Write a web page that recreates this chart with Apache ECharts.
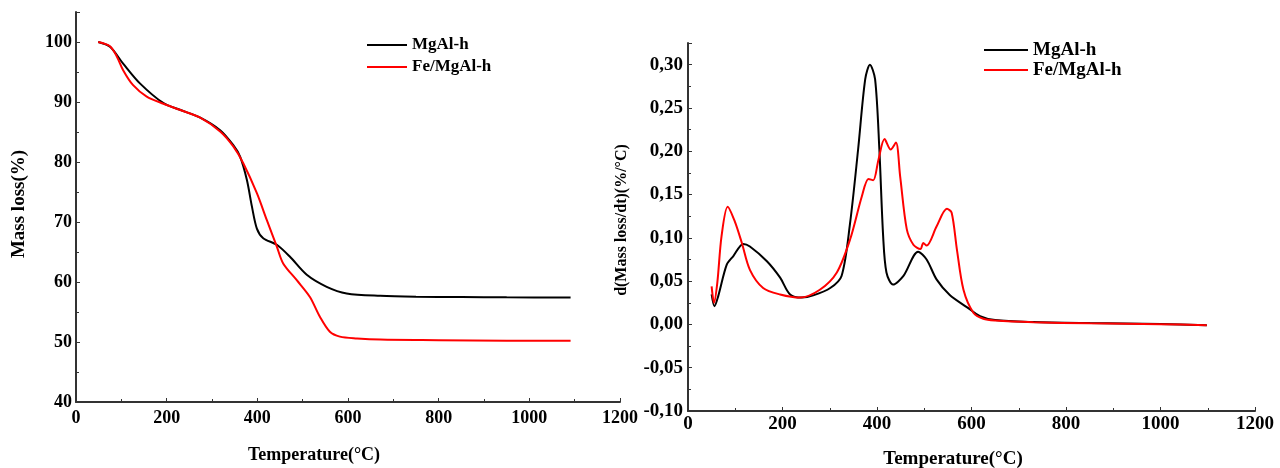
<!DOCTYPE html>
<html>
<head>
<meta charset="utf-8">
<script src="https://cdn.jsdelivr.net/npm/echarts@6/dist/echarts.min.js"></script>
<style>html,body{margin:0;padding:0;background:#fff;}#c{width:1280px;height:468px;}</style>
</head>
<body>
<div id="c"></div>
<script>
// ---- Data ----
const seriesNames = ['MgAl-h', 'Fe/MgAl-h'];
const xTicks = [0, 200, 400, 600, 800, 1000, 1200];
const tgaTicks = [40, 50, 60, 70, 80, 90, 100];
const dtgTicks = [-0.10, -0.05, 0.00, 0.05, 0.10, 0.15, 0.20, 0.25, 0.30];

// TGA, MgAl-h
const tgaTempMgAl = [49, 75, 104, 141, 193, 229, 274, 318, 347, 362, 377, 388, 399, 413, 443, 472, 509, 553, 597, 671, 750, 850, 950, 1091];
const tgaMassMgAl = [100, 99.2, 96.4, 93.1, 89.8, 88.7, 87.4, 85.3, 82.8, 80.9, 77.0, 72.6, 68.9, 67.3, 66.2, 64.2, 61.2, 59.2, 58.1, 57.7, 57.55, 57.5, 57.45, 57.4];
// TGA, Fe/MgAl-h
const tgaTempFe = [49, 75, 90, 104, 126, 156, 193, 229, 274, 318, 347, 369, 399, 421, 443, 457, 487, 516, 538, 560, 582, 620, 671, 800, 950, 1091];
const tgaMassFe = [100, 99.3, 97.6, 95.3, 92.8, 90.9, 89.7, 88.7, 87.4, 85.1, 82.6, 79.8, 74.8, 70.3, 65.9, 63.1, 60.3, 57.5, 54.2, 51.7, 50.9, 50.6, 50.4, 50.3, 50.2, 50.2];

// DTG, MgAl-h
const dtgTempMgAl = [50, 56, 64, 82, 96, 117, 131, 167, 195, 216, 241, 265, 301, 325, 343, 360, 375, 385, 396, 405, 413, 420, 434, 456, 487, 505, 526, 554, 590, 618, 650, 731, 850, 1000, 1098];
const dtgRateMgAl = [0.0346, 0.021, 0.0327, 0.069, 0.079, 0.093, 0.090, 0.073, 0.054, 0.0346, 0.031, 0.0335, 0.042, 0.056, 0.117, 0.202, 0.283, 0.300, 0.283, 0.202, 0.102, 0.060, 0.046, 0.056, 0.084, 0.075, 0.052, 0.034, 0.020, 0.0096, 0.005, 0.0027, 0.0015, 0.0005, -0.001];
// DTG, Fe/MgAl-h
const dtgTempFe = [50, 55, 62, 71, 84, 99, 114, 131, 159, 195, 237, 279, 315, 343, 368, 382, 392, 403, 416, 429, 440, 449, 463, 477, 492, 498, 505, 526, 548, 558, 569, 583, 604, 625, 650, 731, 850, 1000, 1098];
const dtgRateFe = [0.044, 0.025, 0.048, 0.102, 0.136, 0.119, 0.094, 0.063, 0.042, 0.0346, 0.031, 0.040, 0.060, 0.098, 0.148, 0.168, 0.1665, 0.190, 0.214, 0.202, 0.210, 0.171, 0.110, 0.092, 0.087, 0.094, 0.091, 0.113, 0.1335, 0.129, 0.087, 0.040, 0.0135, 0.0065, 0.0045, 0.0025, 0.0012, 0.0003, -0.001];

// ---- Build ----
const zip = (a, b) => a.map((x, i) => [x, b[i]]);
const FONT = 'Liberation Serif';
const AXIS_COLOR = '#333333';
const colors = ['#000000', '#ff0000'];

function isTick(v, ticks) { return ticks.some(t => Math.abs(t - v) < 1e-9); }

function xAxisCfg(gridIndex, fontSize, gap, padRight, margin) {
  return {
    type: 'value', gridIndex, min: 0, max: 1200, interval: 200,
    name: 'Temperature(°C)', nameLocation: 'middle', nameGap: gap,
    nameMoveOverlap: false,
    nameTextStyle: { fontFamily: FONT, fontWeight: 'bold', fontSize, color: '#000', padding: [0, padRight, 0, 0] },
    axisLine: { show: true, onZero: false, lineStyle: { color: AXIS_COLOR, width: 2 } },
    axisTick: { show: true, inside: true, length: 4, lineStyle: { color: AXIS_COLOR, width: 1 } },
    minorTick: { show: true, splitNumber: 2, length: 3, lineStyle: { color: AXIS_COLOR } },
    axisLabel: { fontFamily: FONT, fontWeight: 'bold', fontSize, color: '#000', margin,
      formatter: v => isTick(v, xTicks) ? String(v) : '' },
    splitLine: { show: false }
  };
}

function lineSeries(i, xi, xs, ys) {
  return { name: seriesNames[i], type: 'line', xAxisIndex: xi, yAxisIndex: xi, data: zip(xs, ys),
    smooth: 0.3, showSymbol: false, lineStyle: { width: 2, color: colors[i] }, itemStyle: { color: colors[i] } };
}

const option = {
  animation: false,
  backgroundColor: '#ffffff',
  color: colors,
  grid: [
    { left: 76, width: 544, top: 12, bottom: 66, containLabel: false, outerBoundsMode: 'none' },
    { left: 688, width: 567, top: 43, bottom: 57, containLabel: false, outerBoundsMode: 'none' }
  ],
  xAxis: [
    xAxisCfg(0, 18, 44, 68, 7),
    xAxisCfg(1, 19, 39, 37, 4)
  ],
  yAxis: [
    {
      type: 'value', gridIndex: 0, min: 40, max: 105, interval: 10,
      name: 'Mass loss(%)', nameLocation: 'middle', nameGap: 47, nameMoveOverlap: false,
      nameTextStyle: { fontFamily: FONT, fontWeight: 'bold', fontSize: 19, color: '#000', padding: [0, 0, 0, 6] },
      axisLine: { show: true, lineStyle: { color: AXIS_COLOR, width: 2 } },
      axisTick: { show: true, inside: true, length: 4, lineStyle: { color: AXIS_COLOR } },
      minorTick: { show: true, splitNumber: 2, length: 3, lineStyle: { color: AXIS_COLOR } },
      axisLabel: { fontFamily: FONT, fontWeight: 'bold', fontSize: 18, color: '#000', margin: 4,
        formatter: v => isTick(v, tgaTicks) ? String(v) : '' },
      splitLine: { show: false }
    },
    {
      type: 'value', gridIndex: 1, min: -0.1, max: 0.325, interval: 0.05,
      name: 'd(Mass loss/dt)(%/°C)', nameLocation: 'middle', nameGap: 58, nameMoveOverlap: false,
      nameTextStyle: { fontFamily: FONT, fontWeight: 'bold', fontSize: 16, color: '#000', padding: [0, 0, 0, 14] },
      axisLine: { show: true, onZero: false, lineStyle: { color: AXIS_COLOR, width: 2 } },
      axisTick: { show: true, inside: true, length: 4, lineStyle: { color: AXIS_COLOR } },
      minorTick: { show: true, splitNumber: 2, length: 3, lineStyle: { color: AXIS_COLOR } },
      axisLabel: { fontFamily: FONT, fontWeight: 'bold', fontSize: 19, color: '#000', margin: 5,
        formatter: v => isTick(v, dtgTicks) ? v.toFixed(2).replace('.', ',') : '' },
      splitLine: { show: false }
    }
  ],
  legend: [
    {
      orient: 'vertical', left: 362, top: 30, itemWidth: 40, itemHeight: 2, itemGap: 2,
      icon: 'rect', data: seriesNames,
      textStyle: { fontFamily: FONT, fontWeight: 'bold', fontSize: 17, color: '#000', lineHeight: 20 }
    },
    {
      orient: 'vertical', left: 979, top: 35, itemWidth: 44, itemHeight: 2, itemGap: 0,
      icon: 'rect', data: seriesNames,
      textStyle: { fontFamily: FONT, fontWeight: 'bold', fontSize: 19, color: '#000', lineHeight: 20 }
    }
  ],
  series: [
    lineSeries(0, 0, tgaTempMgAl, tgaMassMgAl),
    lineSeries(1, 0, tgaTempFe, tgaMassFe),
    lineSeries(0, 1, dtgTempMgAl, dtgRateMgAl),
    lineSeries(1, 1, dtgTempFe, dtgRateFe)
  ]
};

const chart = echarts.init(document.getElementById('c'), null, { renderer: 'canvas' });
chart.setOption(option);
</script>
</body>
</html>
